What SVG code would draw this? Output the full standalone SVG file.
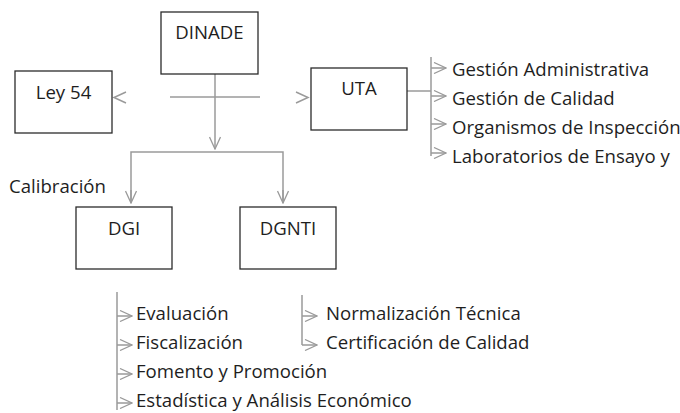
<svg xmlns="http://www.w3.org/2000/svg" width="680" height="413" viewBox="0 0 680 413">
<style>
.box{fill:#fff;stroke:#2b2b2b;stroke-width:1.3}
.t{font-family:"Open Sans",Lato,"Liberation Sans",sans-serif;font-size:18.6px;fill:#1e1e1e}
.c{text-anchor:middle}
.ln{fill:none;stroke:#9a9a9a;stroke-width:1.5}
</style>
<defs>
<marker id="ah" viewBox="0 0 14 12" refX="13" refY="6" markerWidth="14" markerHeight="12" markerUnits="userSpaceOnUse" orient="auto">
<path d="M1,0.5 L13,6 L1,11.5" fill="none" stroke="#9a9a9a" stroke-width="1.3"/>
</marker>
</defs>
<rect width="680" height="413" fill="#fff"/>
<g id="connectors">
<line class="ln" x1="215" y1="69" x2="215" y2="149" marker-end="url(#ah)"/>
<line class="ln" x1="170" y1="97" x2="260" y2="97"/>
<path class="ln" d="M126,92 L114,97.5 L126,103"/>
<path class="ln" d="M296,92 L308,97.5 L296,103"/>
<path class="ln" d="M131,202 L131,152 L283,152 L283,202"/>
<line class="ln" x1="131" y1="190" x2="131" y2="203" marker-end="url(#ah)"/>
<line class="ln" x1="283" y1="190" x2="283" y2="203" marker-end="url(#ah)"/>
<line class="ln" x1="407" y1="91" x2="431" y2="91"/>
<line class="ln" x1="431" y1="57" x2="431" y2="156"/>
<line class="ln" x1="431" y1="68" x2="446" y2="68" marker-end="url(#ah)"/>
<line class="ln" x1="431" y1="96" x2="446" y2="96" marker-end="url(#ah)"/>
<line class="ln" x1="431" y1="124" x2="446" y2="124" marker-end="url(#ah)"/>
<line class="ln" x1="431" y1="153" x2="446" y2="153" marker-end="url(#ah)"/>
<line class="ln" x1="117" y1="292" x2="117" y2="410"/>
<line class="ln" x1="117" y1="316" x2="132" y2="316" marker-end="url(#ah)"/>
<line class="ln" x1="117" y1="345" x2="132" y2="345" marker-end="url(#ah)"/>
<line class="ln" x1="117" y1="374" x2="132" y2="374" marker-end="url(#ah)"/>
<line class="ln" x1="117" y1="403" x2="132" y2="403" marker-end="url(#ah)"/>
<line class="ln" x1="302" y1="295" x2="302" y2="345"/>
<line class="ln" x1="302" y1="316" x2="317" y2="316" marker-end="url(#ah)"/>
<line class="ln" x1="302" y1="345" x2="317" y2="345" marker-end="url(#ah)"/>
</g>
<g id="dinade">
<rect class="box" x="161" y="12" width="97" height="62"/>
<text class="t c" x="209.5" y="39">DINADE</text>
</g>
<g id="ley54">
<rect class="box" x="15" y="71" width="97" height="62"/>
<text class="t c" x="63.5" y="99">Ley 54</text>
</g>
<g id="uta">
<rect class="box" x="311" y="68" width="96" height="62"/>
<text class="t c" x="359" y="95">UTA</text>
</g>
<g id="dgi">
<rect class="box" x="76" y="207" width="96" height="62"/>
<text class="t c" x="124" y="235">DGI</text>
</g>
<g id="dgnti">
<rect class="box" x="240" y="207" width="96" height="62"/>
<text class="t c" x="288" y="235">DGNTI</text>
</g>
<g id="uta-list">
<text class="t" x="452" y="76">Gestión Administrativa</text>
<text class="t" x="452" y="105">Gestión de Calidad</text>
<text class="t" x="452" y="134">Organismos de Inspección</text>
<text class="t" x="452" y="163">Laboratorios de Ensayo y</text>
</g>
<g id="calibracion">
<text class="t" x="9" y="193">Calibración</text>
</g>
<g id="dgi-list">
<text class="t" x="136" y="320">Evaluación</text>
<text class="t" x="136" y="349">Fiscalización</text>
<text class="t" x="136" y="378">Fomento y Promoción</text>
<text class="t" x="136" y="407">Estadística y Análisis Económico</text>
</g>
<g id="dgnti-list">
<text class="t" x="326" y="320">Normalización Técnica</text>
<text class="t" x="326" y="349">Certificación de Calidad</text>
</g>
</svg>
